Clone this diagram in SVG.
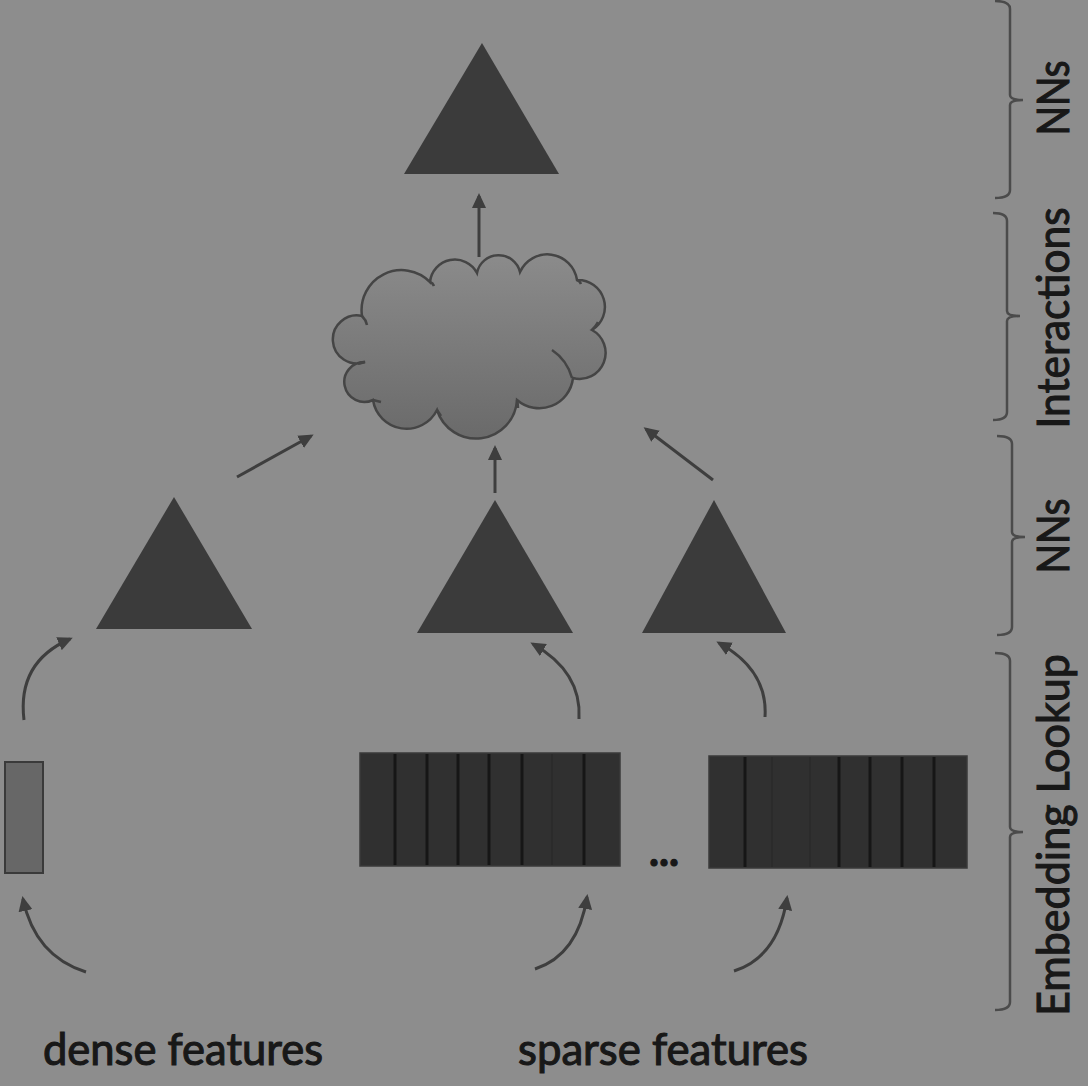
<svg xmlns="http://www.w3.org/2000/svg" width="1088" height="1086" viewBox="0 0 1088 1086">
<defs>
<linearGradient id="cloudGrad" x1="0" y1="0" x2="0" y2="1">
<stop offset="0" stop-color="#8b8b8b"/>
<stop offset="1" stop-color="#6a6a6a"/>
</linearGradient>
<marker id="ah" markerUnits="userSpaceOnUse" markerWidth="16" markerHeight="14" refX="12" refY="7" orient="auto">
<path d="M0,0 L15,7 L0,14 z" fill="#3e3e3e"/>
</marker>
<style>
.tri{fill:#3b3b3b}
.conn{fill:none;stroke:#3e3e3e;stroke-width:3;marker-end:url(#ah)}
.brace{fill:none;stroke:#4b4b4b;stroke-width:2.5}
.lbl{font-family:Lato,"Open Sans","Liberation Sans",sans-serif;font-size:44px;fill:#181818;stroke:#181818;stroke-width:1.1}
.tbl{fill:#303030;stroke:#3a3a3a;stroke-width:1.5}
.div{stroke:#161616;stroke-width:3}
.divf{stroke:#262626;stroke-width:1}
.cloudline{fill:none;stroke:#454545;stroke-width:2.5}
</style>
</defs>
<rect x="0" y="0" width="1088" height="1086" fill="#8d8d8d"/>

<g id="nn-top"><polygon class="tri" points="482,43 559,174 404,174"/></g>

<g id="interactions">
<path d="M362,316 A40 40 0 0 1 430,282 A25 25 0 0 1 477,273 A22 22 0 0 1 520,272 A30 30 0 0 1 577,280 A27 27 0 0 1 592,330 A26 26 0 0 1 573,378 A34 34 0 0 1 517,400 A41 41 0 0 1 437,410 A34 34 0 0 1 373,400 A20 20 0 1 1 365,362 A24 24 0 1 1 362,316 Z" fill="url(#cloudGrad)" stroke="#454545" stroke-width="2.5"/>
<path class="cloudline" d="M362,316 q4,4 5,9 M430,282 q3,1 4,4 M577,280 q3,1 4,4 M592,330 q4,-4 6,-8 M552,350 Q567,360 572,378 M517,400 q1,4 1,8 M437,410 q2,3 4,6 M373,400 q4,1 8,2 M365,362 q-4,0 -7,2"/>
</g>

<g id="nn-dense"><polygon class="tri" points="174,497 252,629 96,629"/></g>
<g id="nn-sparse1"><polygon class="tri" points="495,500 573,633 417,633"/></g>
<g id="nn-sparse2"><polygon class="tri" points="714,500 786,633 642,633"/></g>

<g id="dense-input"><rect x="5" y="762" width="38" height="111" fill="#676767" stroke="#3a3a3a" stroke-width="2"/></g>

<g id="table1">
<rect class="tbl" x="360" y="753" width="260" height="113"/>
<line class="div" x1="395" y1="754" x2="395" y2="865"/>
<line class="div" x1="427" y1="754" x2="427" y2="865"/>
<line class="div" x1="458" y1="754" x2="458" y2="865"/>
<line class="div" x1="489" y1="754" x2="489" y2="865"/>
<line class="div" x1="522" y1="754" x2="522" y2="865"/>
<line class="divf" x1="552" y1="754" x2="552" y2="865"/>
<line class="div" x1="584" y1="754" x2="584" y2="865"/>
</g>

<g id="ellipsis"><text class="lbl" x="649" y="866" font-weight="bold" font-size="40" textLength="30" lengthAdjust="spacingAndGlyphs">...</text></g>

<g id="table2">
<rect class="tbl" x="709" y="756" width="258" height="112"/>
<line class="div" x1="745" y1="757" x2="745" y2="867"/>
<line class="divf" x1="772" y1="757" x2="772" y2="867"/>
<line class="divf" x1="810" y1="757" x2="810" y2="867"/>
<line class="div" x1="839" y1="757" x2="839" y2="867"/>
<line class="div" x1="870" y1="757" x2="870" y2="867"/>
<line class="div" x1="902" y1="757" x2="902" y2="867"/>
<line class="div" x1="934" y1="757" x2="934" y2="867"/>
</g>

<g id="connectors">
<path class="conn" d="M479,257 L479,196"/>
<path class="conn" d="M237,477 L311,436"/>
<path class="conn" d="M495,493 L495,448"/>
<path class="conn" d="M713,480 L646,429"/>
<path class="conn" d="M24,720 Q17,662 70,639"/>
<path class="conn" d="M86,972 Q35,956 23,899"/>
<path class="conn" d="M579,719 Q582,672 533,644"/>
<path class="conn" d="M535,969 Q578,955 587,897"/>
<path class="conn" d="M765,717 Q768,670 719,643"/>
<path class="conn" d="M734,971 Q778,957 787,898"/>
</g>

<g id="brace-nn-top"><path class="brace" d="M995,1 Q1010,1 1010,9 L1010,95 Q1010,100 1023,100 Q1010,100 1010,105 L1010,190 Q1010,198 995,198"/></g>
<g id="brace-interactions"><path class="brace" d="M993,213 Q1007,213 1007,221 L1007,311 Q1007,316 1020,316 Q1007,316 1007,321 L1007,412 Q1007,420 993,420"/></g>
<g id="brace-nn-mid"><path class="brace" d="M997,436 Q1012,436 1012,444 L1012,532 Q1012,537 1025,537 Q1012,537 1012,542 L1012,627 Q1012,635 997,635"/></g>
<g id="brace-embedding"><path class="brace" d="M995,653 Q1010,653 1010,661 L1010,827 Q1010,832 1023,832 Q1010,832 1010,837 L1010,1002 Q1010,1010 995,1010"/></g>

<g id="labels">
<text class="lbl" transform="translate(1069,98) rotate(-90)" text-anchor="middle" textLength="75" lengthAdjust="spacingAndGlyphs">NNs</text>
<text class="lbl" transform="translate(1069,318) rotate(-90)" text-anchor="middle" textLength="221" lengthAdjust="spacingAndGlyphs">Interactions</text>
<text class="lbl" transform="translate(1069,536) rotate(-90)" text-anchor="middle" textLength="75" lengthAdjust="spacingAndGlyphs">NNs</text>
<text class="lbl" transform="translate(1069,835) rotate(-90)" text-anchor="middle" textLength="362" lengthAdjust="spacingAndGlyphs">Embedding Lookup</text>
<text class="lbl" x="43" y="1065" textLength="280" lengthAdjust="spacingAndGlyphs">dense features</text>
<text class="lbl" x="518" y="1065" textLength="290" lengthAdjust="spacingAndGlyphs">sparse features</text>
</g>
</svg>
